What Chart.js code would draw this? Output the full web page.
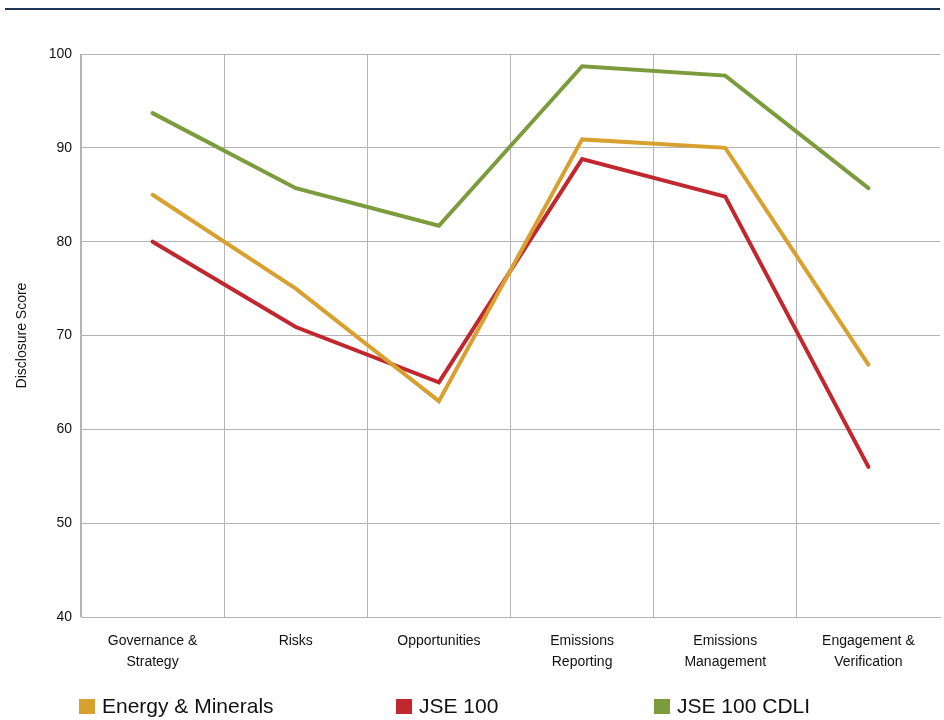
<!DOCTYPE html>
<html>
<head>
<meta charset="utf-8">
<script src="https://cdn.jsdelivr.net/npm/chart.js@4.4.1/dist/chart.umd.min.js"></script>
<style>
  html, body { margin: 0; padding: 0; background: #fff; }
  #wrap { position: relative; width: 944px; height: 720px; }
  #rule { position: absolute; left: 5px; top: 8px; width: 935px; height: 2px; background: #1d3557; }
  #legend { position: absolute; top: 692px; left: 0; width: 944px; height: 28px;
    font-family: "Liberation Sans", Arial, sans-serif; font-size: 21px; color: #111; }
  .legend-item { position: absolute; top: 0; white-space: nowrap; line-height: 28px; }
  .swatch { display: inline-block; width: 16px; height: 15px; margin-right: 7px; vertical-align: -1px; }
</style>
</head>
<body>
<div id="wrap">
  <canvas id="chart" width="944" height="720"></canvas>
  <div id="rule"></div>
  <div id="legend"></div>
</div>
<script>
const categories = [
  ['Governance &', 'Strategy'],
  'Risks',
  'Opportunities',
  ['Emissions', 'Reporting'],
  ['Emissions', 'Management'],
  ['Engagement &', 'Verification'],
];
const energyMinerals = [85, 75, 63, 90.9, 90, 66.9];
const jse100 = [80, 70.9, 65, 88.8, 84.8, 56];
const jse100Cdli = [93.7, 85.7, 81.7, 98.7, 97.7, 85.7];
const yTicks = [40, 50, 60, 70, 80, 90, 100];

const series = [
  { label: 'Energy & Minerals', data: energyMinerals, color: '#d8a12f', left: 79 },
  { label: 'JSE 100', data: jse100, color: '#c1272e', left: 396 },
  { label: 'JSE 100 CDLI', data: jse100Cdli, color: '#7b9b3c', left: 654 },
];

const font = { family: '"Liberation Sans", Arial, sans-serif', size: 14 };

new Chart(document.getElementById('chart').getContext('2d'), {
  type: 'line',
  data: {
    labels: categories,
    datasets: series.map((s) => ({
      label: s.label,
      data: s.data,
      borderColor: s.color,
      backgroundColor: s.color,
      borderWidth: 4,
      pointRadius: 0,
      tension: 0,
      borderCapStyle: 'round',
    })),
  },
  options: {
    responsive: false,
    animation: false,
    layout: { padding: { top: 54, right: 4, left: 0, bottom: 0 } },
    plugins: { legend: { display: false }, tooltip: { enabled: false } },
    scales: {
      x: {
        offset: true,
        grid: {
          offset: true,
          drawTicks: false,
          // no line on the right edge of the plot
          color: (ctx) => (ctx.tick ? '#b4b4b4' : 'rgba(0,0,0,0)'),
        },
        border: { color: '#b4b4b4' },
        ticks: { font: { ...font, lineHeight: 1.5 }, color: '#111', padding: 14, maxRotation: 0, autoSkip: false },
        afterFit: (scale) => { scale.height = 103; },
      },
      y: {
        min: 40,
        max: 100,
        afterBuildTicks: (scale) => { scale.ticks = yTicks.map((v) => ({ value: v })); },
        grid: { drawTicks: false, color: '#b4b4b4' },
        border: { color: '#b4b4b4' },
        ticks: { font, color: '#111', padding: 9 },
        title: { display: true, text: 'Disclosure Score', font, color: '#111', padding: { top: 14, bottom: 0 } },
        afterFit: (scale) => { scale.width = 81; },
      },
    },
  },
});

document.getElementById('legend').innerHTML = series
  .map((s) => `<span class="legend-item" style="left:${s.left}px"><span class="swatch" style="background:${s.color}"></span>${s.label}</span>`)
  .join('');
</script>
</body>
</html>
